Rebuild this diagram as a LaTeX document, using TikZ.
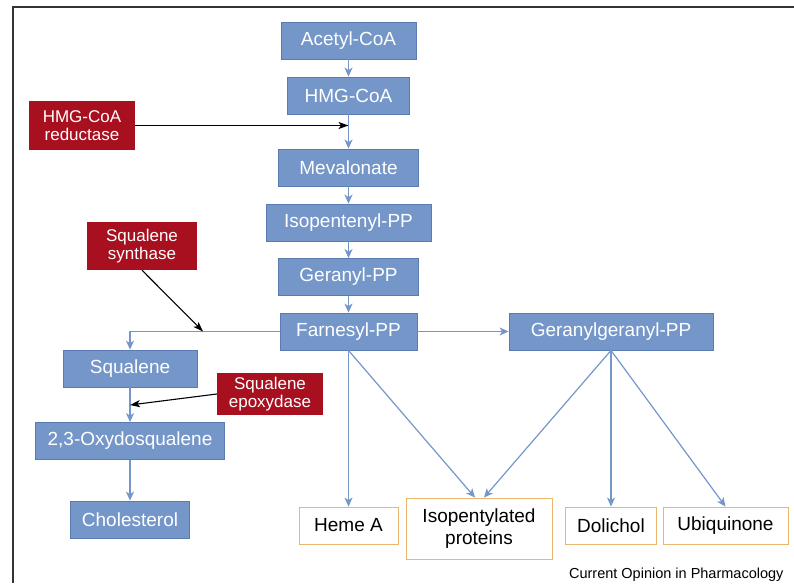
\documentclass[tikz,border=0pt]{standalone}
\usepackage{fontspec}
\setmainfont{Liberation Sans}
\usetikzlibrary{arrows.meta}

\definecolor{stepblue}{RGB}{116,150,200}
\definecolor{stepedge}{RGB}{90,122,178}
\definecolor{drugred}{RGB}{168,16,32}
\definecolor{prodorange}{RGB}{234,182,110}

\tikzset{
  stepbox/.style={rectangle, draw=stepedge, fill=stepblue, text=white, line width=0.8pt,
    inner sep=0pt, minimum height=37pt, font=\fontsize{19}{21}\selectfont},
  drugbox/.style={rectangle, fill=drugred, text=white, inner sep=0pt, align=center,
    font=\fontsize{17}{18.5}\selectfont},
  prodbox/.style={rectangle, draw=prodorange, fill=white, line width=0.9pt, inner sep=0pt,
    align=center, minimum height=37pt, font=\fontsize{19}{22}\selectfont},
  flow/.style={draw=stepblue, line width=1.2pt, -{Stealth[inset=2.5pt, length=9pt, width=8pt]}},
  hit/.style={draw=black, line width=1.1pt, -{Stealth[inset=2.5pt, length=10pt, width=7pt]}}
}

\begin{document}
\begin{tikzpicture}[x=1pt, y=-1pt]
                            \useasboundingbox (0,0) rectangle (794,583);
                            \draw[line width=1.8pt, black!80] (794,7) -- (13,7) -- (13,583);

                            \node (acetyl)[stepbox, minimum width=135pt] at (348.5, 40.5) {Acetyl-CoA};
                            \node (hmg)[stepbox, minimum width=122pt] at (348.5, 95.5) {HMG-CoA};
                            \node (meval)[stepbox, minimum width=140pt] at (348.5, 167.5) {Mevalonate};
                            \node (isopent)[stepbox, minimum width=165pt] at (348.5, 222.5) {Isopentenyl-PP};
                            \node (geranyl)[stepbox, minimum width=140pt] at (348.5, 277) {Geranyl-PP};
                            \node (farnesyl)[stepbox, minimum width=137pt] at (348.5, 331.5) {Farnesyl-PP};
                            \node (gg)[stepbox, minimum width=204pt] at (611, 331.5) {Geranylgeranyl-PP};
                            \node (squalene)[stepbox, minimum width=134pt] at (130, 368.5) {Squalene};
                            \node (oxy)[stepbox, minimum width=189pt] at (130, 441) {2,3-Oxydosqualene};
                            \node (chol)[stepbox, minimum width=119pt] at (130, 519.5) {Cholesterol};

                            \node (reductase)[drugbox, minimum width=106pt, minimum height=49pt] at (82, 125.5) {HMG-CoA\\reductase};
                            \node (synthase)[drugbox, minimum width=110pt, minimum height=48pt] at (142, 246) {Squalene\\synthase};
                            \node (epoxydase)[drugbox, minimum width=106pt, minimum height=42pt, font=\fontsize{17}{17.5}\selectfont] at (270, 394) {Squalene\\epoxydase};

                            \node (heme)[prodbox, minimum width=99pt] at (348.5, 525.5) {Heme A};
                            \node (isoprot)[prodbox, minimum width=146pt, minimum height=61pt] at (479, 528.5) {Isopentylated\\proteins};
                            \node (dolichol)[prodbox, minimum width=91pt] at (611, 525.5) {Dolichol};
                            \node (ubiq)[prodbox, minimum width=125pt] at (725.5, 525.5) {Ubiquinone};

                            \node (source)[font=\fontsize{14.5}{16}\selectfont, anchor=east] at (787, 575) {Current Opinion in Pharmacology};

                            \coordinate (block1) at (348.5, 125.5);
                            \coordinate (block2) at (203, 331.5);
                            \coordinate (block3) at (130, 405);

                            \draw[flow] (acetyl) -- (hmg);
                            \draw[flow] (hmg) -- (meval);
                            \draw[flow] (meval) -- (isopent);
                            \draw[flow] (isopent) -- (geranyl);
                            \draw[flow] (geranyl) -- (farnesyl);
                            \draw[flow] (farnesyl) -- (gg);
                            \draw[flow] (farnesyl.west) -| (squalene.north);
                            \draw[flow] (squalene) -- (oxy);
                            \draw[flow] (oxy) -- (chol);
                            \draw[flow] (farnesyl) -- (heme);
                            \draw[flow] (farnesyl.south) -- ([xshift=-4pt]isoprot.north);
                            \draw[flow] (gg.south) -- ([xshift=5pt]isoprot.north);
                            \draw[flow] (gg) -- (dolichol);
                            \draw[flow] (gg.south) -- (ubiq.north);

                            \draw[hit] (reductase.east) -- (block1);
                            \draw[hit] (synthase.south) -- (block2);
                            \draw[hit] (epoxydase.west) -- (block3);

                        \end{tikzpicture}
\end{document}
